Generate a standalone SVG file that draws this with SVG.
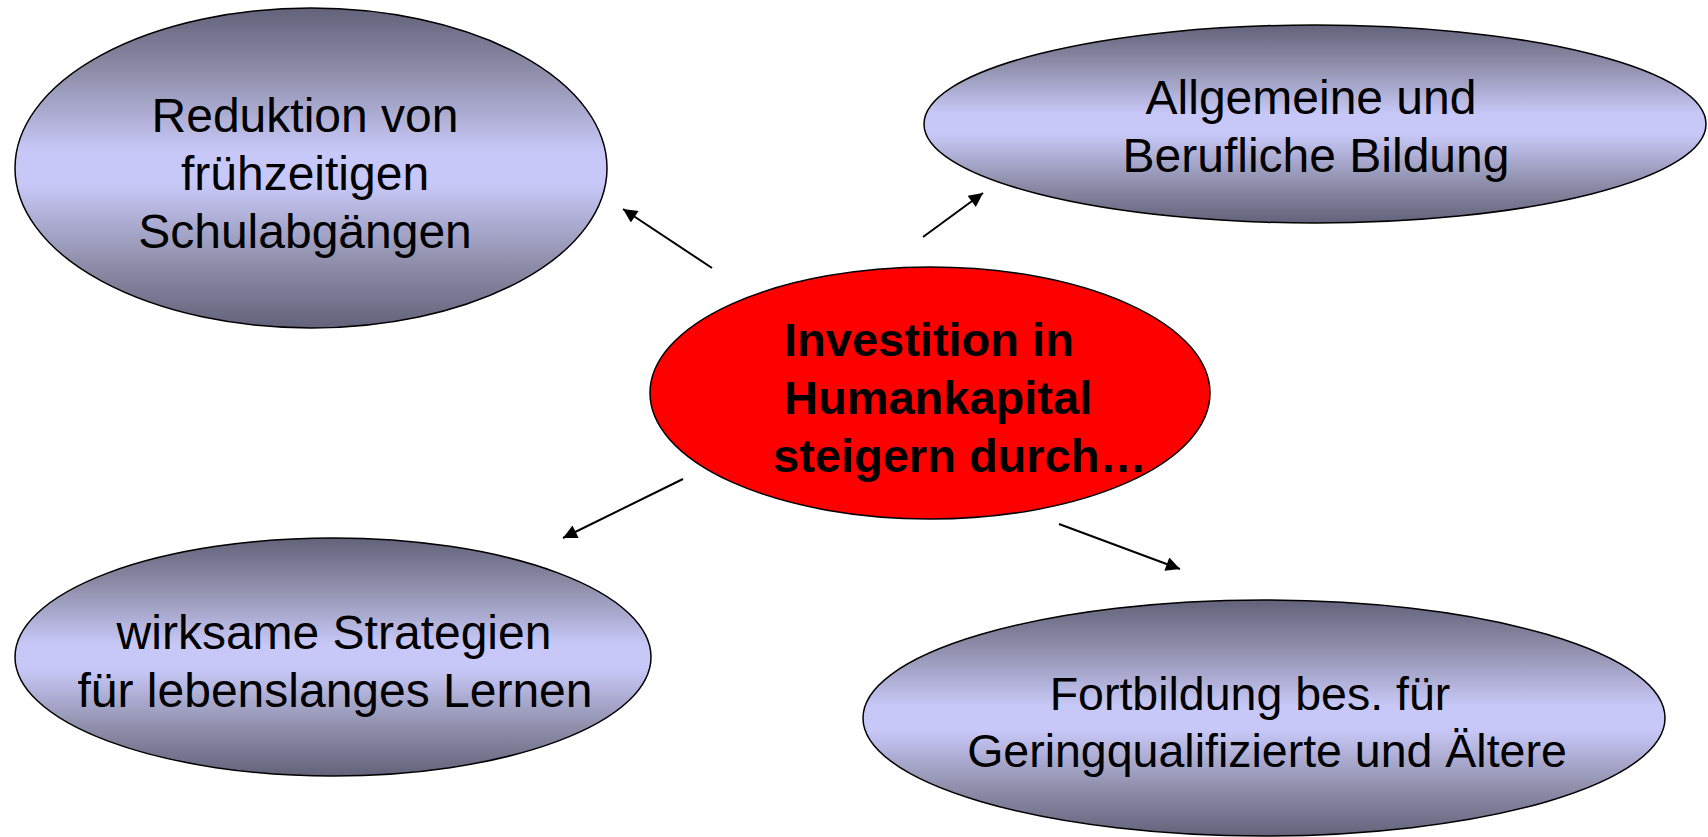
<svg xmlns="http://www.w3.org/2000/svg" width="1708" height="837" viewBox="0 0 1708 837">
<defs>
<linearGradient id="g" x1="0" y1="0" x2="0" y2="1">
<stop offset="0" stop-color="#62627a"/>
<stop offset="0.2" stop-color="#8e8eaa"/>
<stop offset="0.45" stop-color="#c8c8f8"/>
<stop offset="0.55" stop-color="#c8c8f8"/>
<stop offset="0.8" stop-color="#8e8eaa"/>
<stop offset="1" stop-color="#62627a"/>
</linearGradient>
<marker id="ah" viewBox="0 0 10 10" refX="10" refY="5" markerWidth="8" markerHeight="7" markerUnits="strokeWidth" orient="auto">
<path d="M0,0 L10,5 L0,10 Z" fill="#000"/>
</marker>
<style>
.n{fill:url(#g);stroke:#000;stroke-width:1.5}
.c{fill:#ff0000;stroke:#000;stroke-width:1.5}
.t{font-family:"Liberation Sans",Arial,sans-serif;font-size:48px;fill:#000;text-anchor:middle}
.s{font-size:46.5px}
.b{font-family:"Liberation Sans",Arial,sans-serif;font-size:47px;font-weight:bold;fill:#000}
.a{stroke:#000;stroke-width:2;fill:none;marker-end:url(#ah)}
</style>
</defs>
<rect width="1708" height="837" fill="#fff"/>
<g id="connectors">
<line class="a" x1="712" y1="268" x2="623" y2="209"/>
<line class="a" x1="923" y1="237" x2="983" y2="193"/>
<line class="a" x1="683" y1="479" x2="563" y2="538"/>
<line class="a" x1="1059" y1="524" x2="1180" y2="569"/>
</g>
<g id="n1">
<ellipse class="n" cx="311" cy="168" rx="296" ry="160"/>
<text class="t" x="305" y="132">Reduktion von</text>
<text class="t" x="305" y="190">frühzeitigen</text>
<text class="t" x="305" y="248">Schulabgängen</text>
</g>
<g id="n2">
<ellipse class="n" cx="1315" cy="124" rx="391" ry="99"/>
<text class="t" x="1311" y="114">Allgemeine und</text>
<text class="t" x="1316" y="172">Berufliche Bildung</text>
</g>
<g id="center">
<ellipse class="c" cx="930" cy="393" rx="280" ry="126"/>
<text class="b" x="784" y="356">Investition in</text>
<text class="b" x="784" y="414">Humankapital</text>
<text class="b" x="773" y="472">steigern durch…</text>
</g>
<g id="n3">
<ellipse class="n" cx="333" cy="657" rx="318" ry="119"/>
<text class="t" x="334" y="649">wirksame Strategien</text>
<text class="t" x="335" y="707">für lebenslanges Lernen</text>
</g>
<g id="n4">
<ellipse class="n" cx="1264" cy="718" rx="401" ry="118"/>
<text class="t s" x="1250" y="710">Fortbildung bes. für</text>
<text class="t s" x="1267" y="767">Geringqualifizierte und Ältere</text>
</g>
</svg>
